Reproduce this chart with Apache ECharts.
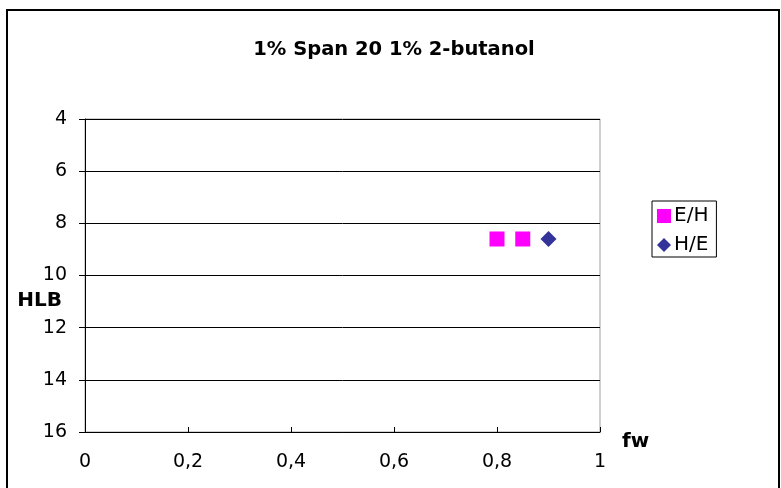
<!DOCTYPE html>
<html><head><meta charset="utf-8">
<script src="https://cdn.jsdelivr.net/npm/echarts@6/dist/echarts.min.js"></script>
<style>html,body{margin:0;padding:0;background:#fff}#c{width:781px;height:488px}</style>
</head><body><div id="c"></div>
<script>
const titleText = '1% Span 20 1% 2-butanol';
const xName = 'fw';
const yName = 'HLB';
const seriesNames = ['E/H', 'H/E'];
const ehX = [0.8, 0.85];
const ehY = [8.6, 8.6];
const heX = [0.9];
const heY = [8.6];

const font = 'DejaVu Sans, sans-serif';
const chart = echarts.init(document.getElementById('c'), null, {renderer: 'canvas'});
chart.setOption({
  animation: false,
  backgroundColor: '#fff',
  title: {text: titleText, left: 389, top: 35, textAlign: 'center',
    textStyle: {fontFamily: font, fontWeight: 'bold', fontSize: 19.5, color: '#000'}},
  graphic: [
    {type: 'rect', shape: {x: 7, y: 10, width: 772, height: 490},
      style: {fill: 'none', stroke: '#000', lineWidth: 2}, silent: true},
    {type: 'text', x: 62, y: 301, style: {text: yName, fontFamily: font, fontWeight: 'bold', fontSize: 20,
      fill: '#000', align: 'right', verticalAlign: 'middle'}, silent: true}
  ],
  grid: {left: 85, right: 181, top: 119, bottom: 56, show: true, borderColor: '#a0a0a0', borderWidth: 1},
  legend: {orient: 'vertical', left: 652, top: 201, itemWidth: 14, itemHeight: 14, itemGap: 9,
    padding: [5, 8, 2, 5], borderColor: '#000', borderWidth: 1,
    textStyle: {fontFamily: font, fontSize: 20, color: '#000', padding: [0, 0, 0, -2]},
    data: [{name: seriesNames[0], icon: 'rect'}, {name: seriesNames[1], icon: 'diamond'}]},
  xAxis: {type: 'value', min: 0, max: 1, interval: 0.2, name: xName, nameLocation: 'end', nameGap: 22,
    nameTextStyle: {fontFamily: font, fontWeight: 'bold', fontSize: 20, color: '#000', verticalAlign: 'top', align: 'left'},
    axisLine: {show: true, lineStyle: {color: '#000'}},
    axisTick: {show: true, inside: true, length: 5, lineStyle: {color: '#000'}},
    axisLabel: {margin: 21, fontFamily: font, fontSize: 19, color: '#000',
      formatter: v => String(v).replace('.', ',')},
    splitLine: {show: false}},
  yAxis: {type: 'value', inverse: true, min: 4, max: 16, interval: 2,
    axisLine: {show: true, lineStyle: {color: '#000'}},
    axisTick: {show: true, inside: false, length: 6, lineStyle: {color: '#000'}},
    axisLabel: {margin: 18, fontFamily: font, fontSize: 19, color: '#000'},
    splitLine: {show: true, lineStyle: {color: '#000'}}},
  series: [
    {name: seriesNames[0], type: 'scatter', symbol: 'rect', symbolSize: 15, itemStyle: {color: '#ff00ff', opacity: 1},
      data: ehX.map((x, i) => [x, ehY[i]])},
    {name: seriesNames[1], type: 'scatter', symbol: 'diamond', symbolSize: 16, itemStyle: {color: '#333399', opacity: 1},
      data: heX.map((x, i) => [x, heY[i]])}
  ]
});
</script></body></html>
